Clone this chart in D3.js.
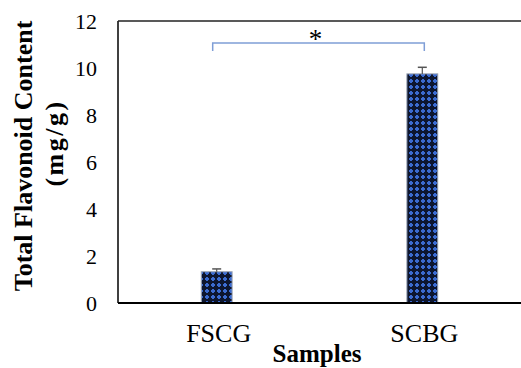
<!DOCTYPE html>
<html>
<head>
<meta charset="utf-8">
<script src="https://cdn.jsdelivr.net/npm/d3@7"></script>
<style>
  body { margin: 0; background: #fff; }
  svg text { font-family: "Liberation Serif", "Times New Roman", serif; fill: #000; }
</style>
</head>
<body>
<div id="chart"></div>
<script>
var samples = ["FSCG", "SCBG"];
var flavonoid = [1.33, 9.75];
var errors = [0.12, 0.28];
var yTicks = [0, 2, 4, 6, 8, 10, 12];

var width = 521, height = 368;
var margin = {top: 21, right: 0, bottom: 65, left: 118};

var svg = d3.select("#chart").append("svg")
  .attr("width", width)
  .attr("height", height);

// checker / cross fill like the excel pattern
var defs = svg.append("defs");
var pat = defs.append("pattern")
  .attr("id", "cross")
  .attr("patternUnits", "userSpaceOnUse")
  .attr("width", 6)
  .attr("height", 6);
pat.append("rect").attr("width", 6).attr("height", 6).attr("fill", "#0d1630");
pat.append("rect").attr("x", 1).attr("y", 2).attr("width", 4).attr("height", 2).attr("fill", "#3b6bd0");
pat.append("rect").attr("x", 2).attr("y", 1).attr("width", 2).attr("height", 4).attr("fill", "#3b6bd0");

var x = d3.scaleBand()
  .domain(samples)
  .range([margin.left, width - margin.right])
  .paddingInner(0.85)
  .paddingOuter(0.405);

var y = d3.scaleLinear()
  .domain([0, 12])
  .range([height - margin.bottom, margin.top]);

var g = svg.append("g");

// y axis labels (no tick marks)
var yAxis = d3.axisLeft(y).tickValues(yTicks).tickSize(0).tickPadding(21);
g.append("g")
  .attr("transform", "translate(" + margin.left + ",0)")
  .call(yAxis)
  .call(function (s) {
    s.select(".domain").remove();
    s.selectAll("text")
      .attr("font-size", 22)
      .attr("font-family", "Liberation Serif");
  });

// bars
g.selectAll(".bar")
  .data(samples)
  .enter().append("rect")
  .attr("class", "bar")
  .attr("x", function (d) { return x(d); })
  .attr("width", x.bandwidth())
  .attr("y", function (d, i) { return y(flavonoid[i]); })
  .attr("height", function (d, i) { return y(0) - y(flavonoid[i]); })
  .attr("fill", "url(#cross)")
  .attr("stroke", "#9aa3b5")
  .attr("stroke-width", 1);

// error bars
samples.forEach(function (d, i) {
  var cx = x(d) + x.bandwidth() / 2;
  g.append("line")
    .attr("x1", cx).attr("x2", cx)
    .attr("y1", y(flavonoid[i] + errors[i]))
    .attr("y2", y(flavonoid[i]))
    .attr("stroke", "#555").attr("stroke-width", 1.2);
  g.append("line")
    .attr("x1", cx - 4.5).attr("x2", cx + 4.5)
    .attr("y1", y(flavonoid[i] + errors[i]))
    .attr("y2", y(flavonoid[i] + errors[i]))
    .attr("stroke", "#555").attr("stroke-width", 1.5);
});

// frame: left, top, bottom
g.append("line")
  .attr("x1", margin.left).attr("x2", margin.left)
  .attr("y1", y(12)).attr("y2", y(0))
  .attr("stroke", "#000").attr("stroke-width", 1.5);
g.append("line")
  .attr("x1", margin.left).attr("x2", width)
  .attr("y1", y(12)).attr("y2", y(12))
  .attr("stroke", "#222").attr("stroke-width", 1.5);
g.append("line")
  .attr("x1", margin.left).attr("x2", width)
  .attr("y1", y(0)).attr("y2", y(0))
  .attr("stroke", "#000").attr("stroke-width", 2);

// x labels
g.selectAll(".xlab")
  .data(samples)
  .enter().append("text")
  .attr("class", "xlab")
  .attr("x", function (d) { return x(d) + x.bandwidth() / 2 + 2; })
  .attr("y", 342)
  .attr("text-anchor", "middle")
  .attr("font-size", 26)
  .text(function (d) { return d; });

// significance bracket
var bx1 = x("FSCG") + x.bandwidth() / 2 - 4;
var bx2 = x("SCBG") + x.bandwidth() / 2 + 2;
var by = 43;
g.append("path")
  .attr("d", "M" + bx1 + "," + (by + 8) + "V" + by + "H" + bx2 + "V" + (by + 8))
  .attr("fill", "none")
  .attr("stroke", "#7f9ed6")
  .attr("stroke-width", 1.5);
g.append("text")
  .attr("x", (bx1 + bx2) / 2 - 3)
  .attr("y", 48)
  .attr("text-anchor", "middle")
  .attr("font-size", 27)
  .text("*");

// axis titles
g.append("text")
  .attr("x", 317)
  .attr("y", 362)
  .attr("text-anchor", "middle")
  .attr("font-size", 25)
  .attr("font-weight", "bold")
  .text("Samples");

g.append("text")
  .attr("transform", "translate(32,156) rotate(-90)")
  .attr("text-anchor", "middle")
  .attr("font-size", 26)
  .attr("font-weight", "bold")
  .text("Total Flavonoid Content");
g.append("text")
  .attr("transform", "translate(63,143) rotate(-90)")
  .attr("text-anchor", "middle")
  .attr("font-size", 26)
  .attr("font-weight", "bold")
  .attr("letter-spacing", 2.5)
  .text("(mg/g)");
</script>
</body>
</html>
